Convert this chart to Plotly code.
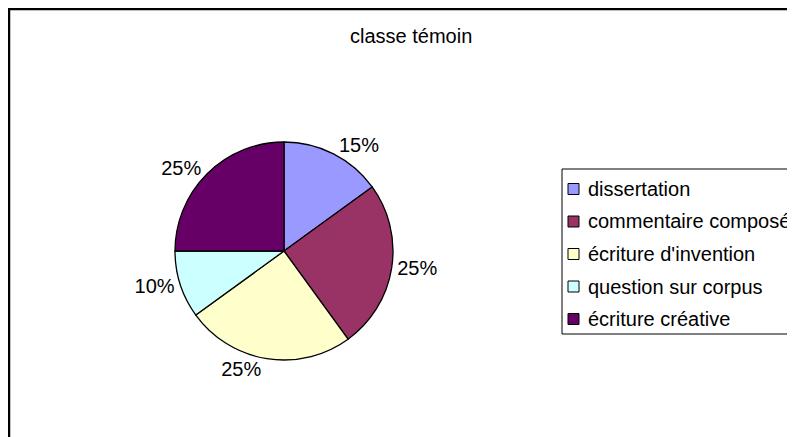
import plotly.graph_objects as go

W, H = 795, 437
OFF = 8  # default <body> margin of the page shifts the figure by 8px

labels = ["dissertation", "commentaire composé", "écriture d'invention",
          "question sur corpus", "écriture créative"]
values = [15, 25, 25, 10, 25]
colors = ["#9999FF", "#993366", "#FFFFCC", "#CCFFFF", "#660066"]
title = "classe témoin"

FONT = "Liberation Sans, Arial, sans-serif"
FS = 20


def px_x(x):
    return (x - OFF) / W


def px_y(y):
    return 1 - (y - OFF) / H


# pie centre / radius in window pixels (as in the reference)
cx, cy, r = 284, 251, 109

fig = go.Figure(go.Pie(
    labels=labels,
    values=values,
    sort=False,
    direction="clockwise",
    rotation=0,
    marker=dict(colors=colors, line=dict(color="black", width=1.3)),
    textinfo="percent",
    textposition="outside",
    outsidetextfont=dict(family=FONT, size=FS, color="black"),
    domain=dict(x=[px_x(cx - r), px_x(cx + r)], y=[px_y(cy + r), px_y(cy - r)]),
    showlegend=False,
    hoverinfo="label+percent",
))

shapes = [
    # chart area border (right / bottom edges fall outside the picture)
    dict(type="rect", xref="paper", yref="paper",
         x0=px_x(9), x1=px_x(W + 30), y0=px_y(H + 30), y1=px_y(9),
         line=dict(color="black", width=2.5), fillcolor="rgba(0,0,0,0)"),
    # legend box
    dict(type="rect", xref="paper", yref="paper",
         x0=px_x(562), x1=px_x(W + 30), y0=px_y(334), y1=px_y(169),
         line=dict(color="black", width=1), fillcolor="white"),
]
annotations = [
    dict(text=title, x=px_x(411), y=px_y(36), xref="paper", yref="paper",
         xanchor="center", yanchor="middle", showarrow=False,
         font=dict(family=FONT, size=FS, color="black")),
]

# hand-drawn legend (Excel style: small squares, wide row spacing)
row0, step = 189, 32.5
for i, (lab, col) in enumerate(zip(labels, colors)):
    yc = row0 + i * step
    shapes.append(dict(type="rect", xref="paper", yref="paper",
                       x0=px_x(568), x1=px_x(579), y0=px_y(yc + 5.5), y1=px_y(yc - 5.5),
                       line=dict(color="black", width=1), fillcolor=col))
    annotations.append(dict(text=lab, x=px_x(586), y=px_y(yc), xref="paper", yref="paper",
                            xanchor="left", yanchor="middle", showarrow=False,
                            font=dict(family=FONT, size=FS, color="black")))

fig.update_layout(
    width=W, height=H,
    margin=dict(l=0, r=0, t=0, b=0),
    paper_bgcolor="white",
    plot_bgcolor="white",
    shapes=shapes,
    annotations=annotations,
)

fig.write_html("out.html")
